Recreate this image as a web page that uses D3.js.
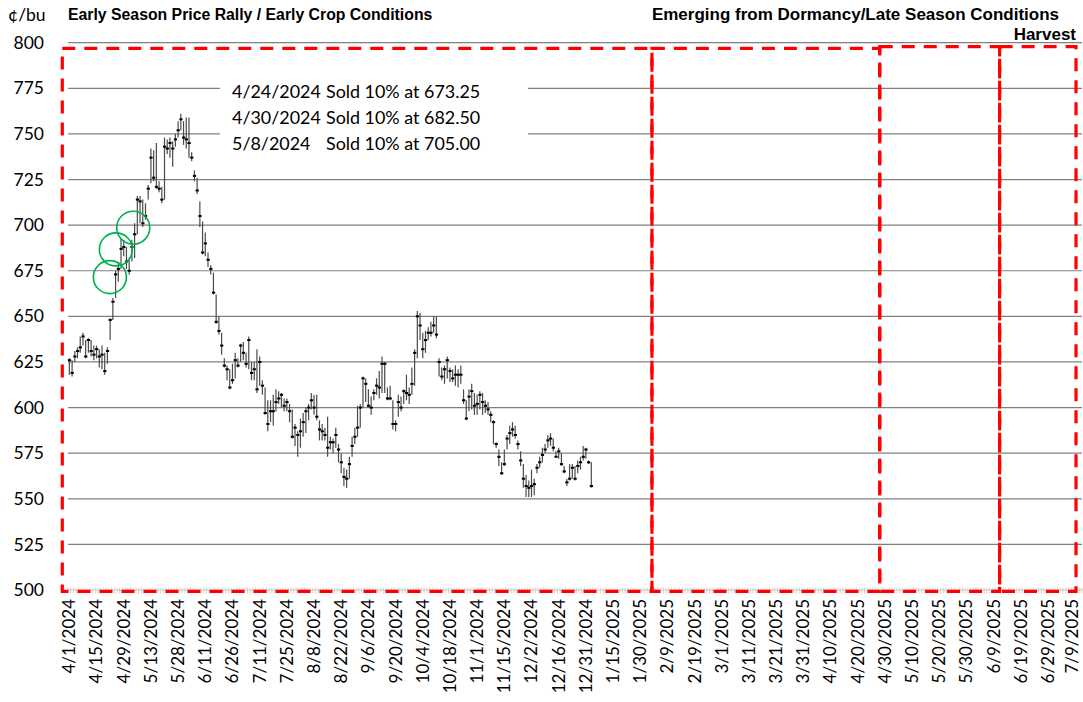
<!DOCTYPE html>
<html>
<head>
<meta charset="utf-8">
<script src="https://cdn.jsdelivr.net/npm/d3@7"></script>
<style>
  body { margin: 0; background: #fff; }
  svg { display: block; }
</style>
</head>
<body>
<div id="chart"></div>
<script>
// daily high / low / close, one entry per trading day from 4/1/2024
const high = [627,626,631,633,639,641,637,638,637,634,634,632,634,630,633,649,660,675,679,693,
  692,688,681,692,701,716,716,714,712,722,742,741,745,724,721,748,747,748,746,750,
  757,761,757,759,759,740,730,726,713,702,696,685,678,674,662,650,641,627,623,621,
  624,630,627,635,636,630,639,625,625,632,628,615,611,604,604,607,610,609,608,605,
  605,602,599,591,587,594,597,600,602,608,607,607,593,591,589,595,584,583,589,580,
  575,567,566,573,584,589,601,602,617,616,610,606,610,616,620,628,625,611,612,604,
  593,607,606,610,618,611,622,632,653,652,641,642,644,647,650,650,627,622,623,628,
  622,621,623,621,623,610,604,610,613,608,607,609,608,604,603,598,593,581,577,570,
  577,585,590,592,590,582,576,569,563,560,566,561,569,573,578,580,585,586,583,576,
  578,575,568,561,569,569,568,571,573,579,578,571,570];
const low = [618,617,625,627,630,634,627,630,628,626,627,622,621,618,624,637,648,660,669,676,
  683,676,673,680,682,695,701,699,703,714,723,724,720,718,712,714,739,737,732,743,
  748,752,744,742,737,735,724,717,699,684,683,677,673,662,646,640,629,622,615,610,
  613,616,622,625,626,622,621,615,615,608,612,607,596,587,592,590,598,602,600,598,
  598,592,583,579,573,578,584,586,593,599,596,593,582,582,582,573,577,575,578,570,
  564,557,556,561,573,580,584,589,600,603,600,596,604,607,605,608,608,604,604,588,
  587,595,598,602,604,602,607,612,627,637,627,630,637,639,641,638,617,615,613,616,
  614,614,612,611,613,602,593,598,599,596,596,599,596,597,596,592,580,578,568,563,
  568,577,580,584,583,577,568,556,551,551,551,552,564,567,570,575,578,579,576,573,
  572,568,564,557,560,561,560,564,566,571,572,569,556];
const close = [626,619,628,631,633,639,628,637,631,629,632,628,629,620,631,648,658,673,676,687,
  688,680,675,688,695,714,713,701,705,720,737,726,721,720,714,743,742,745,742,747,
  752,758,748,747,745,737,727,719,705,685,690,681,676,663,647,642,634,623,621,611,
  615,626,623,634,630,624,637,619,621,610,625,612,597,591,598,598,603,605,607,601,
  603,598,584,589,585,587,592,598,600,604,600,595,588,587,585,578,581,581,585,577,
  570,562,561,569,579,584,589,600,616,613,601,600,608,612,611,624,624,605,605,591,
  591,603,600,609,608,607,613,630,650,645,632,637,641,641,645,640,625,617,621,626,
  620,616,618,618,618,604,594,606,609,601,602,607,603,601,599,596,592,580,573,564,
  569,583,586,588,585,580,571,561,557,556,557,558,567,570,574,577,582,583,578,573,
  576,569,565,559,561,567,561,568,570,573,577,570,557];

// category axis: trading days to 1/30/2025, calendar days after; a label every 10 categories
const tickLabels = ["4/1/2024","4/15/2024","4/29/2024","5/13/2024","5/28/2024","6/11/2024",
  "6/26/2024","7/11/2024","7/25/2024","8/8/2024","8/22/2024","9/6/2024","9/20/2024",
  "10/4/2024","10/18/2024","11/1/2024","11/15/2024","12/2/2024","12/16/2024","12/31/2024",
  "1/15/2025","1/30/2025","2/9/2025","2/19/2025","3/1/2025","3/11/2025","3/21/2025",
  "3/31/2025","4/10/2025","4/20/2025","4/30/2025","5/10/2025","5/20/2025","5/30/2025",
  "6/9/2025","6/19/2025","6/29/2025","7/9/2025"];
const labelStep = 10;
const nCats = 373;

const yTicks = [500,525,550,575,600,625,650,675,700,725,750,775,800];

// seasonal windows (category index range, top value)
const seasonBoxes = [
  { from: -2.6, to: 214.3, top: 796.9 },
  { from: 214.3, to: 298.1, top: 796.9 },
  { from: 298.1, to: 342.2, top: 797.8 },
  { from: 342.2, to: 370.3, top: 797.8 }
];

const sales = [
  { date: "4/24/2024", text: "Sold 10% at 673.25" },
  { date: "4/30/2024", text: "Sold 10% at 682.50" },
  { date: "5/8/2024", text: "Sold 10% at 705.00" }
];
// green rings around the sale days (category index, price)
const saleRings = [
  { i: 14.9, v: 671.5 },
  { i: 17.1, v: 686.7 },
  { i: 23.5, v: 698.6 }
];

const width = 1083, height = 702;
const labelFont = "Lato, 'Open Sans', sans-serif";
const titleFont = "'Liberation Sans', Arial, sans-serif";

const svg = d3.select("#chart").append("svg")
  .attr("width", width)
  .attr("height", height);

const x = d3.scaleLinear().domain([-0.5, nCats - 0.5]).range([68, 1082]);
const y = d3.scaleLinear().domain([500, 800]).range([590, 42.7]);

// gridlines
svg.append("g")
  .selectAll("line")
  .data(yTicks.filter(d => d > 500))
  .join("line")
  .attr("x1", x.range()[0])
  .attr("x2", x.range()[1])
  .attr("y1", d => y(d))
  .attr("y2", d => y(d))
  .attr("stroke", "#808080")
  .attr("stroke-width", 1.2);

// y labels
svg.append("g")
  .selectAll("text")
  .data(yTicks)
  .join("text")
  .attr("x", 44)
  .attr("y", d => y(d))
  .attr("dy", "0.35em")
  .attr("text-anchor", "end")
  .style("font-family", labelFont)
  .style("font-size", "17.5px")
  .attr("fill", "#000")
  .text(d => d);

svg.append("text")
  .attr("x", 8)
  .attr("y", 21)
  .style("font-family", labelFont)
  .style("font-size", "17.5px")
  .text("¢/bu");

// x axis line with a tick for every category
const axis = svg.append("g");
axis.append("line")
  .attr("x1", x.range()[0])
  .attr("x2", x.range()[1])
  .attr("y1", y(500))
  .attr("y2", y(500))
  .attr("stroke", "#c8c8c8")
  .attr("stroke-width", 1.2);
axis.selectAll("line.tick")
  .data(d3.range(nCats + 1))
  .join("line")
  .attr("class", "tick")
  .attr("x1", d => x(d - 0.5))
  .attr("x2", d => x(d - 0.5))
  .attr("y1", y(500) - 2.5)
  .attr("y2", y(500) + 3.5)
  .attr("stroke", "#c8c8c8")
  .attr("stroke-width", 0.8);

axis.selectAll("text")
  .data(tickLabels)
  .join("text")
  .attr("transform", (d, k) => `translate(${Math.min(x(k * labelStep), 1072)},599) rotate(-90)`)
  .attr("dy", "0.35em")
  .attr("text-anchor", "end")
  .style("font-family", labelFont)
  .style("font-size", "17px")
  .text(d => d);

// annotation box (white, hides the gridlines behind the text)
const noteLeft = 220, noteTop = 72;
svg.append("rect")
  .attr("x", noteLeft)
  .attr("y", noteTop)
  .attr("width", 308)
  .attr("height", 88)
  .attr("fill", "#fff");

const note = svg.append("g").style("font-family", labelFont).style("font-size", "17.9px");
note.selectAll("text.date")
  .data(sales)
  .join("text")
  .attr("class", "date")
  .attr("x", noteLeft + 12)
  .attr("y", (d, k) => 98 + k * 26)
  .text(d => d.date);
note.selectAll("text.sold")
  .data(sales)
  .join("text")
  .attr("class", "sold")
  .attr("x", noteLeft + 106)
  .attr("y", (d, k) => 98 + k * 26)
  .text(d => d.text);

// high-low bars with close ticks
const bars = svg.append("g");
bars.selectAll("line")
  .data(close.map((c, i) => ({ i, h: high[i], l: low[i], c })))
  .join("line")
  .attr("x1", d => x(d.i))
  .attr("x2", d => x(d.i))
  .attr("y1", d => y(d.h))
  .attr("y2", d => y(d.l))
  .attr("stroke", "#4a4a4a")
  .attr("stroke-width", 1.2);
bars.selectAll("rect")
  .data(close.map((c, i) => ({ i, c })))
  .join("rect")
  .attr("x", d => x(d.i) - 1.5)
  .attr("y", d => y(d.c) - 1)
  .attr("width", 3.2)
  .attr("height", 2)
  .attr("fill", "#000");

// sale markers
svg.append("g")
  .selectAll("circle")
  .data(saleRings)
  .join("circle")
  .attr("cx", d => x(d.i))
  .attr("cy", d => y(d.v))
  .attr("r", 16.5)
  .attr("fill", "none")
  .attr("stroke", "#00b050")
  .attr("stroke-width", 1.6);

// seasonal windows
svg.append("g")
  .selectAll("rect")
  .data(seasonBoxes)
  .join("rect")
  .attr("x", d => x(d.from))
  .attr("y", d => y(d.top))
  .attr("width", d => x(d.to) - x(d.from))
  .attr("height", d => y(499.3) - y(d.top))
  .attr("fill", "none")
  .attr("stroke", "#ff0000")
  .attr("stroke-width", 3.2)
  .attr("stroke-dasharray", "13,9");

// titles
const titles = svg.append("g")
  .style("font-family", titleFont)
  .style("font-weight", "bold");
titles.append("text").attr("x", 68).attr("y", 20)
  .style("font-size", "15.8px")
  .text("Early Season Price Rally / Early Crop Conditions");
titles.append("text").attr("x", 1059).attr("y", 20).attr("text-anchor", "end")
  .style("font-size", "17px")
  .text("Emerging from Dormancy/Late Season Conditions");
titles.append("text").attr("x", 1076).attr("y", 40).attr("text-anchor", "end")
  .style("font-size", "17px")
  .text("Harvest");
</script>
</body>
</html>
